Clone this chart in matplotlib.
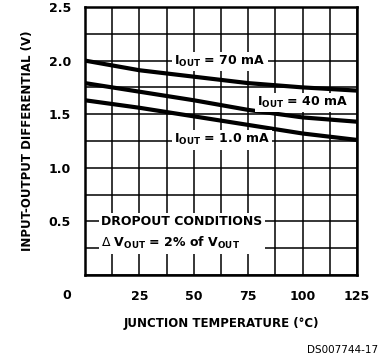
import matplotlib
matplotlib.use('Agg')
import matplotlib.pyplot as plt
import numpy as np

# data
temp_c = [0, 25, 50, 75, 100, 125]
v_70ma = [2.00, 1.91, 1.85, 1.79, 1.75, 1.72]
v_40ma = [1.79, 1.71, 1.63, 1.54, 1.47, 1.43]
v_1ma = [1.63, 1.56, 1.48, 1.40, 1.32, 1.26]

x_labels = ["25", "50", "75", "100", "125"]
y_labels = ["0.5", "1.0", "1.5", "2.0", "2.5"]

FONT = ['Liberation Sans Narrow', 'DejaVu Sans']
plt.rcParams['font.family'] = FONT

fig = plt.figure(figsize=(3.9, 3.63), dpi=100)
ax = fig.add_axes([85 / 390, 88 / 363, 272 / 390, 268 / 363])

ax.set_xlim(0, 125)
ax.set_ylim(0, 2.5)

ax.set_xticks([25, 50, 75, 100, 125])
ax.set_xticklabels(x_labels)
ax.set_yticks([0.5, 1.0, 1.5, 2.0, 2.5])
ax.set_yticklabels(y_labels)
ax.set_xticks(np.arange(0, 126, 12.5), minor=True)
ax.set_yticks(np.arange(0, 2.51, 0.25), minor=True)
ax.tick_params(which='both', length=0)
ax.tick_params(axis='y', pad=10)
ax.tick_params(axis='x', pad=11)
for lab in ax.get_xticklabels() + ax.get_yticklabels():
    lab.set_fontweight('bold')
    lab.set_fontsize(9)

ax.grid(which='both', color='black', linewidth=1.1)
ax.set_axisbelow(True)
for sp in ax.spines.values():
    sp.set_linewidth(1.8)

lw = 3.0
ax.plot(temp_c, v_70ma, color='black', lw=lw, zorder=3)
ax.plot(temp_c, v_40ma, color='black', lw=lw, zorder=3)
ax.plot(temp_c, v_1ma, color='black', lw=lw, zorder=3)

box = dict(facecolor='white', edgecolor='none', pad=1.5)
kw = dict(fontsize=9, fontweight='bold', ha='center', va='center', zorder=5, bbox=box)
ax.text(62, 1.99, r"I$_{\mathregular{OUT}}$ = 70 mA", **kw)
ax.text(100, 1.61, r"I$_{\mathregular{OUT}}$ = 40 mA", **kw)
ax.text(63, 1.26, r"I$_{\mathregular{OUT}}$ = 1.0 mA", **kw)
ax.text(7.5, 0.39, "DROPOUT CONDITIONS\n" + r"$\Delta$ V$_{\mathregular{OUT}}$ = 2% of V$_{\mathregular{OUT}}$",
        fontsize=9, fontweight='bold', ha='left', va='center', linespacing=1.6,
        zorder=5, bbox=dict(facecolor='white', edgecolor='none', pad=2))

ax.annotate("0", xy=(0, 0), xytext=(-13, -14.5), textcoords='offset points',
            ha='center', va='center', fontsize=9, fontweight='bold',
            annotation_clip=False)

ax.set_xlabel("JUNCTION TEMPERATURE (°C)", fontsize=8.5, fontweight='bold', labelpad=10)
ax.set_ylabel("INPUT-OUTPUT DIFFERENTIAL (V)", fontsize=8.5, fontweight='bold', labelpad=11)

fig.text(378 / 390, 1 - 350 / 363, "DS007744-17", fontsize=7.5, ha='right', va='center')

fig.savefig("out.png", dpi=100)
